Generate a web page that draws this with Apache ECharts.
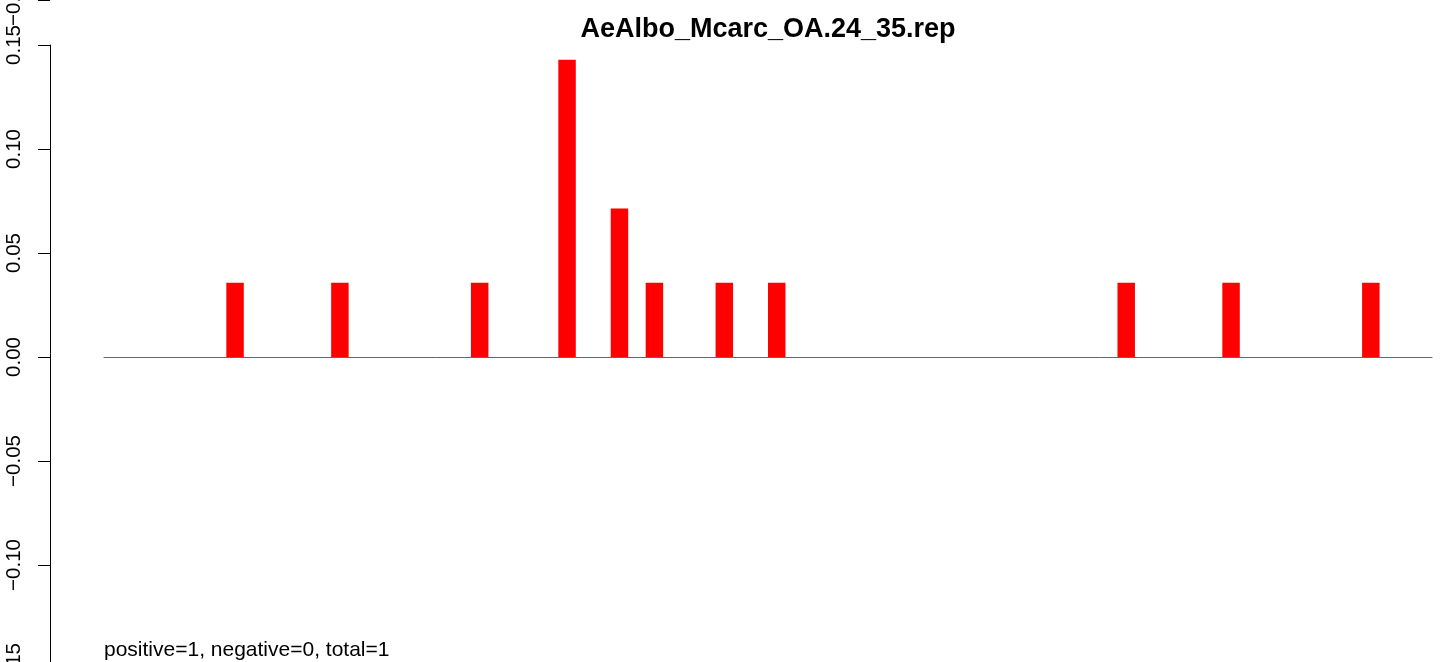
<!DOCTYPE html>
<html>
<head>
<meta charset="utf-8">
<script src="https://cdn.jsdelivr.net/npm/echarts@6/dist/echarts.min.js"></script>
<style>
  html, body { margin: 0; padding: 0; background: #ffffff; }
  #chart { width: 1441px; height: 662px; }
</style>
</head>
<body>
<div id="chart"></div>
<script>
// ---- data ----
const chartTitle = 'AeAlbo_Mcarc_OA.24_35.rep';
const footNote = 'positive=1, negative=0, total=1';
// 70 bins, left to right
const binValues = [
  0, 0, 0, 0, 0.0357, 0, 0, 0, 0, 0,
  0.0357, 0, 0, 0, 0, 0, 0, 0, 0.0357, 0,
  0, 0, 0, 0.1429, 0, 0, 0.0714, 0, 0.0357, 0,
  0, 0, 0.0357, 0, 0, 0.0357, 0, 0, 0, 0,
  0, 0, 0, 0, 0, 0, 0, 0, 0, 0,
  0, 0, 0, 0, 0, 0.0357, 0, 0, 0, 0,
  0, 0.0357, 0, 0, 0, 0, 0, 0, 0, 0.0357
];
const yMin = -0.15, yMax = 0.15, yStep = 0.05;
const xPad = 3; // axis range padding, in bins
const strayTickLabel = '\u22120.15'; // label of an adjacent panel's axis, visible at top edge

const FONT = '"Liberation Sans", Arial, Helvetica, sans-serif';
const fmt = v => {
  const r = Math.round(v * 100) / 100;
  return (r < 0 ? '\u2212' : '') + Math.abs(r).toFixed(2);
};

const chart = echarts.init(document.getElementById('chart'), null, { renderer: 'canvas' });
chart.setOption({
  animation: false,
  backgroundColor: '#ffffff',
  title: {
    text: chartTitle,
    left: 768,
    top: 16,
    textAlign: 'center',
    padding: 0,
    textStyle: { fontFamily: FONT, fontSize: 27, fontWeight: 'bold', color: '#000' }
  },
  grid: {
    left: 104, right: 9, top: 45, height: 624,
    containLabel: false,
    outerBoundsMode: 'none'
  },
  xAxis: {
    type: 'value',
    min: -xPad,
    max: binValues.length + xPad,
    axisLine: { show: true, onZero: true, lineStyle: { color: '#666666', width: 1 } },
    axisTick: { show: false },
    axisLabel: { show: false },
    splitLine: { show: false }
  },
  yAxis: {
    type: 'value',
    min: yMin, max: yMax, interval: yStep,
    offset: 54,
    axisLine: { show: true, onZero: false, lineStyle: { color: '#000', width: 1 } },
    axisTick: { show: true, length: 12, lineStyle: { color: '#000', width: 1 } },
    axisLabel: {
      show: true, rotate: 90, margin: 25,
      fontFamily: FONT, fontSize: 20.5, color: '#000',
      formatter: fmt
    },
    splitLine: { show: false }
  },
  series: [{
    type: 'bar',
    data: binValues.map((v, i) => [i + 0.5, v]),
    barWidth: '100%',
    itemStyle: { color: '#ff0000' },
    silent: true
  }],
  graphic: [
    {
      type: 'line',
      shape: { x1: 38, y1: 0.5, x2: 50, y2: 0.5 },
      style: { stroke: '#000', lineWidth: 1 }
    },
    {
      type: 'text',
      x: 25, y: 0,
      rotation: Math.PI / 2,
      style: {
        text: strayTickLabel, fill: '#000',
        fontFamily: FONT, fontSize: 20.5,
        align: 'center', verticalAlign: 'bottom'
      }
    },
    {
      type: 'text',
      x: 104, y: 640,
      style: {
        text: footNote, fill: '#000',
        fontFamily: FONT, fontSize: 21,
        align: 'left', verticalAlign: 'top'
      }
    }
  ]
});
</script>
</body>
</html>
